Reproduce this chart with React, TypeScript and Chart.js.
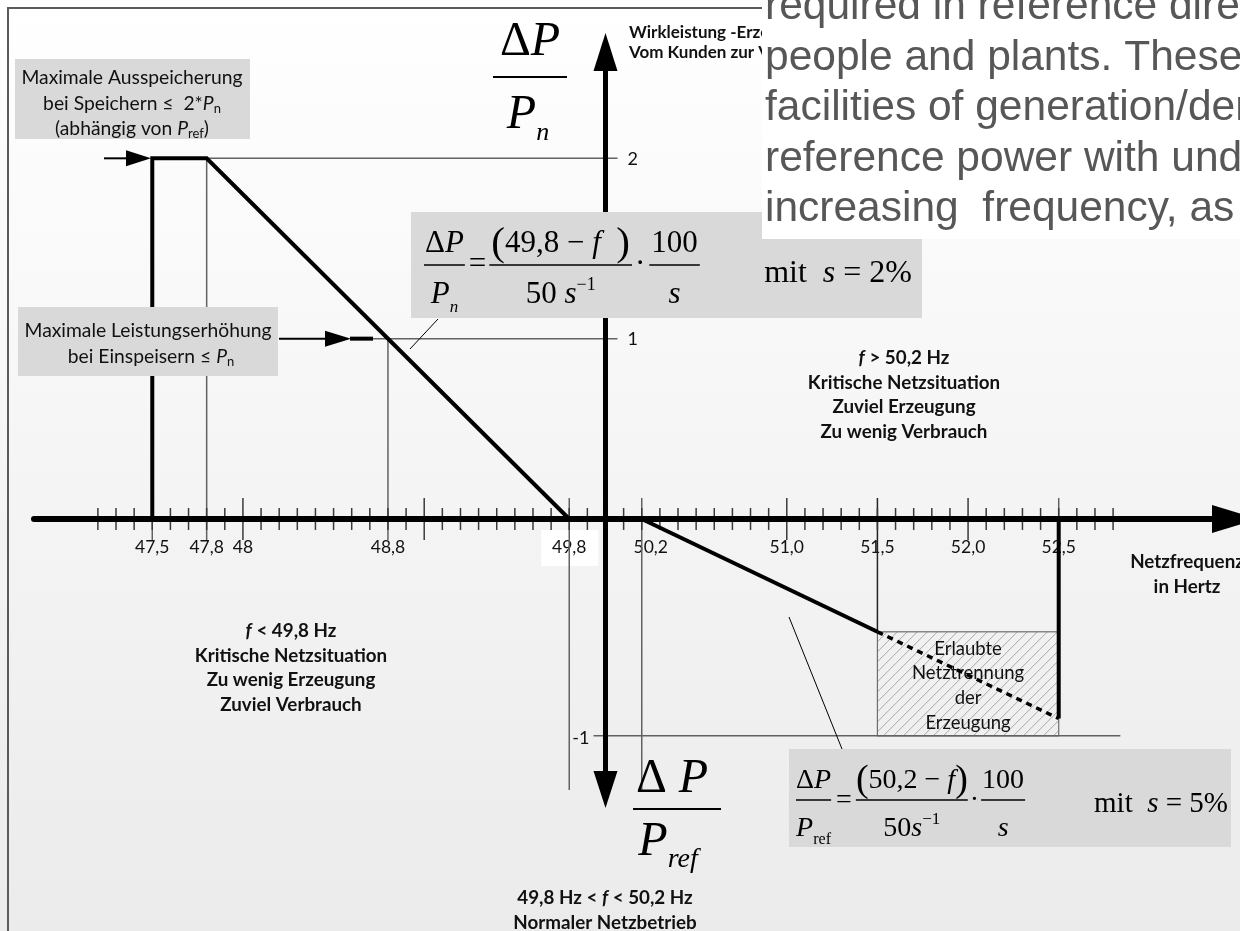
import React, { useEffect, useRef } from "react";
import { Chart, registerables } from "chart.js";

Chart.register(...registerables);

const WIDTH = 1240;
const HEIGHT = 931;

// Under-frequency characteristic, ΔP/Pn over f
const UNDER_FREQ = [47.5, 47.5, 47.8, 49.8];
const UNDER_DP = [0, 2, 2, 0];
// Over-frequency reduction, ΔP/Pref over f (solid part)
const OVER_FREQ = [50.2, 51.5];
const OVER_DP = [0, -0.52];
// continued reduction inside the disconnection band (dashed)
const TRIP_FREQ = [51.5, 52.5];
const TRIP_DP = [-0.52, -0.92];
// disconnection at 52,5 Hz
const CUT_FREQ = [52.5, 52.5];
const CUT_DP = [0, -0.92];
// band of permitted disconnection
const BAND_FREQ = [51.5, 52.5];
const BAND_DP = [-0.52, -1];

const TICK_VALUES = [47.5, 47.8, 48, 48.8, 49.8, 50.2, 51.0, 51.5, 52.0, 52.5];
const TICK_LABELS = ["47,5", "47,8", "48", "48,8", "49,8", "50,2", "51,0", "51,5", "52,0", "52,5"];
const PN_TICKS = [2, 1];
const PN_TICK_LABELS = ["2", "1"];
const REF_TICKS = [-1];
const REF_TICK_LABELS = ["-1"];

// scale ranges: frequency, ΔP/Pn (upper half), ΔP/Pref (lower half)
const F_RANGE = [46.66, 53.5];
const PN_RANGE = [-2.285, 2.878];
const REF_RANGE = [-1.9, 2.394];

type Run = { t: string; f: string; dy?: number };

const SANS = '"Lato", "Open Sans", sans-serif';
const sans = (size: number, weight = "normal", style = "normal") =>
  `${style} ${weight} ${size}px ${SANS}`;
const serif = (size: number, italic = false) =>
  `${italic ? "italic " : ""}${size}px "Liberation Serif", "DejaVu Serif", serif`;

function runsWidth(ctx: CanvasRenderingContext2D, runs: Run[]) {
  let w = 0;
  for (const r of runs) {
    ctx.font = r.f;
    w += ctx.measureText(r.t).width;
  }
  return w;
}

function drawRuns(
  ctx: CanvasRenderingContext2D,
  runs: Run[],
  x: number,
  y: number,
  align: "left" | "center" | "right" = "left"
) {
  const w = runsWidth(ctx, runs);
  let cx = align === "center" ? x - w / 2 : align === "right" ? x - w : x;
  ctx.textAlign = "left";
  ctx.textBaseline = "alphabetic";
  for (const r of runs) {
    ctx.font = r.f;
    ctx.fillText(r.t, cx, y + (r.dy || 0));
    cx += ctx.measureText(r.t).width;
  }
  return cx;
}

function drawFrac(
  ctx: CanvasRenderingContext2D,
  num: Run[],
  den: Run[],
  x: number,
  barY: number,
  up: number,
  down: number,
  pad: number,
  lw = 1.5
) {
  const w = Math.max(runsWidth(ctx, num), runsWidth(ctx, den)) + 2 * pad;
  drawRuns(ctx, num, x + w / 2, barY - up, "center");
  drawRuns(ctx, den, x + w / 2, barY + down, "center");
  ctx.lineWidth = lw;
  ctx.beginPath();
  ctx.moveTo(x, barY);
  ctx.lineTo(x + w, barY);
  ctx.stroke();
  return x + w;
}

function line(ctx: CanvasRenderingContext2D, x0: number, y0: number, x1: number, y1: number) {
  ctx.beginPath();
  ctx.moveTo(x0, y0);
  ctx.lineTo(x1, y1);
  ctx.stroke();
}

function tri(ctx: CanvasRenderingContext2D, pts: number[][]) {
  ctx.beginPath();
  ctx.moveTo(pts[0][0], pts[0][1]);
  for (let i = 1; i < pts.length; i++) ctx.lineTo(pts[i][0], pts[i][1]);
  ctx.closePath();
  ctx.fill();
}

const diagramPlugin = {
  id: "diagram",
  beforeDraw(chart: any) {
    const { ctx } = chart;
    ctx.save();
    const g = ctx.createLinearGradient(0, 0, 0, HEIGHT);
    g.addColorStop(0, "#ffffff");
    g.addColorStop(1, "#ebebeb");
    ctx.fillStyle = g;
    ctx.fillRect(0, 0, WIDTH, HEIGHT);
    ctx.strokeStyle = "#5a5a5a";
    ctx.lineWidth = 2;
    ctx.beginPath();
    ctx.moveTo(8, HEIGHT);
    ctx.lineTo(8, 8);
    ctx.lineTo(770, 8);
    ctx.stroke();
    ctx.restore();
  },
  beforeDatasetsDraw(chart: any) {
    const { ctx, scales } = chart;
    const fx = (v: number) => scales.x.getPixelForValue(v);
    const fy = (v: number) => scales.y.getPixelForValue(v);
    const fr = (v: number) => scales.yRef.getPixelForValue(v);
    const axisY = fy(0);
    const axisX = fx(50);
    ctx.save();

    // hatched band of permitted disconnection
    const bx0 = fx(BAND_FREQ[0]);
    const bx1 = fx(BAND_FREQ[1]);
    const by0 = fr(BAND_DP[0]);
    const by1 = fr(BAND_DP[1]);
    ctx.save();
    ctx.beginPath();
    ctx.rect(bx0, by0, bx1 - bx0, by1 - by0);
    ctx.clip();
    ctx.strokeStyle = "#a8a8a8";
    ctx.lineWidth = 1;
    const h = by1 - by0;
    for (let s = bx0 - h; s < bx1 + 12; s += 10) line(ctx, s, by1, s + h, by0);
    ctx.restore();
    ctx.strokeStyle = "#6e6e6e";
    ctx.lineWidth = 1.2;
    ctx.strokeRect(bx0, by0, bx1 - bx0, by1 - by0);
    ctx.fillStyle = "#111";
    ctx.font = sans(18.5);
    ctx.textAlign = "center";
    ctx.textBaseline = "middle";
    ["Erlaubte", "Netztrennung", "der", "Erzeugung"].forEach((t, i) =>
      ctx.fillText(t, (bx0 + bx1) / 2, by0 + 17 + i * 24.6)
    );

    // frequency tick labels
    ctx.font = sans(17.5);
    TICK_VALUES.forEach((v, i) => {
      const x = fx(v);
      if (v === 49.8) {
        ctx.fillStyle = "#ffffff";
        ctx.fillRect(x - 28, axisY + 11, 57, 36);
      }
      ctx.fillStyle = "#111";
      ctx.fillText(TICK_LABELS[i], x + (v === 50.2 ? 9 : 0), axisY + 28);
    });

    // thin guide lines
    ctx.strokeStyle = "#626262";
    ctx.lineWidth = 1.5;
    line(ctx, fx(47.8), fy(2), axisX + 12, fy(2));
    line(ctx, 372, fy(1), axisX + 12, fy(1));
    line(ctx, axisX - 12, fr(-1), fx(52.84), fr(-1));
    line(ctx, fx(47.8), fy(2), fx(47.8), axisY + 21);
    line(ctx, fx(48.8), fy(1), fx(48.8), axisY + 21);
    line(ctx, fx(47.5), axisY, fx(47.5), axisY + 21);
    line(ctx, fx(49.8), axisY - 21, fx(49.8), 790);
    line(ctx, fx(50.2), axisY - 21, fx(50.2), 791);
    line(ctx, fx(52.5), axisY - 21, fx(52.5), axisY);
    ctx.strokeStyle = "#222";
    line(ctx, fx(51.5), axisY - 21, fx(51.5), fr(-0.52));

    // frequency axis with minor ticks
    ctx.strokeStyle = "#3a3a3a";
    ctx.lineWidth = 1.5;
    for (let k = 472; k <= 528; k++) {
      if (k === 500) continue;
      const len = k % 10 === 0 ? 21 : 11;
      const x = fx(k / 10);
      line(ctx, x, axisY - len, x, axisY + len);
    }
    ctx.strokeStyle = "#000";
    ctx.fillStyle = "#000";
    ctx.lineWidth = 6;
    ctx.lineCap = "round";
    line(ctx, 34, axisY, 1215, axisY);
    ctx.lineCap = "butt";
    tri(ctx, [[1212, axisY - 14], [1258, axisY], [1212, axisY + 14]]);

    // power axis (both directions)
    ctx.lineWidth = 5;
    line(ctx, axisX, 68, axisX, 775);
    tri(ctx, [[axisX, 33], [axisX - 12, 71], [axisX + 12, 71]]);
    tri(ctx, [[axisX, 808], [axisX - 12, 771], [axisX + 12, 771]]);

    // pointer arrows from the note boxes
    ctx.lineWidth = 2;
    line(ctx, 104, fy(2), 128, fy(2));
    tri(ctx, [[126, fy(2) - 8], [151, fy(2)], [126, fy(2) + 8]]);
    line(ctx, 279, fy(1), 328, fy(1));
    tri(ctx, [[325, fy(1) - 8], [351, fy(1)], [325, fy(1) + 8]]);
    ctx.lineWidth = 4;
    line(ctx, 350, fy(1), 373, fy(1));
    ctx.restore();
  },
  afterDatasetsDraw(chart: any) {
    const { ctx, scales } = chart;
    const fx = (v: number) => scales.x.getPixelForValue(v);
    const fy = (v: number) => scales.y.getPixelForValue(v);
    const fr = (v: number) => scales.yRef.getPixelForValue(v);
    const axisX = fx(50);
    ctx.save();

    // note boxes
    ctx.fillStyle = "#d9d9d9";
    ctx.fillRect(15, 59, 235, 80);
    ctx.fillRect(18, 307, 260, 69);
    ctx.fillStyle = "#111";
    const N = 19.3;
    drawRuns(ctx, [{ t: "Maximale Ausspeicherung", f: sans(N) }], 132, 84, "center");
    drawRuns(
      ctx,
      [
        { t: "bei Speichern ≤  2*", f: sans(N) },
        { t: "P", f: sans(N, "normal", "italic") },
        { t: "n", f: sans(13), dy: 3 },
      ],
      132,
      110,
      "center"
    );
    drawRuns(
      ctx,
      [
        { t: "(abhängig von ", f: sans(N) },
        { t: "P", f: sans(N, "normal", "italic") },
        { t: "ref", f: sans(13), dy: 3 },
        { t: ")", f: sans(N) },
      ],
      132,
      135,
      "center"
    );
    drawRuns(ctx, [{ t: "Maximale Leistungserhöhung", f: sans(N) }], 148, 337, "center");
    drawRuns(
      ctx,
      [
        { t: "bei Einspeisern ≤ ", f: sans(N) },
        { t: "P", f: sans(N, "normal", "italic") },
        { t: "n", f: sans(13), dy: 3 },
      ],
      151,
      363,
      "center"
    );

    // ordinate tick labels
    ctx.font = sans(18);
    ctx.textBaseline = "middle";
    ctx.textAlign = "left";
    PN_TICKS.forEach((v, i) => ctx.fillText(PN_TICK_LABELS[i], axisX + 22, fy(v) + 1));
    ctx.textAlign = "right";
    REF_TICKS.forEach((v, i) => ctx.fillText(REF_TICK_LABELS[i], axisX - 16, fr(v) + 2));

    // axis titles
    ctx.fillStyle = "#000";
    ctx.strokeStyle = "#000";
    drawRuns(ctx, [{ t: "Δ", f: serif(48) }, { t: "P", f: serif(48, true) }], 530, 55, "center");
    ctx.lineWidth = 2;
    line(ctx, 493, 77, 567, 77);
    drawRuns(ctx, [{ t: "P", f: serif(48, true) }, { t: "n", f: serif(26, true), dy: 12 }], 528, 128, "center");

    drawRuns(ctx, [{ t: "Δ ", f: serif(48) }, { t: "P", f: serif(48, true) }], 672, 792, "center");
    line(ctx, 633, 809, 721, 809);
    drawRuns(ctx, [{ t: "P", f: serif(48, true) }, { t: "ref", f: serif(28, true), dy: 12 }], 668, 855, "center");

    ctx.fillStyle = "#111";
    ctx.font = sans(17, "bold");
    ctx.textAlign = "left";
    ctx.textBaseline = "alphabetic";
    ctx.fillText("Wirkleistung -Erzeugung", 629, 38);
    ctx.fillText("Vom Kunden zur Verfügung", 629, 58);

    // operating regions
    const R = 18.8;
    const B = (s: number) => sans(s, "bold");
    const BI = (s: number) => sans(s, "bold", "italic");
    const block = (cx: number, y0: number, lines: Run[][]) =>
      lines.forEach((r, i) => drawRuns(ctx, r, cx, y0 + i * 24.5, "center"));
    block(291, 637, [
      [{ t: "f", f: BI(R) }, { t: " < 49,8 Hz", f: B(R) }],
      [{ t: "Kritische Netzsituation", f: B(R) }],
      [{ t: "Zu wenig Erzeugung", f: B(R) }],
      [{ t: "Zuviel Verbrauch", f: B(R) }],
    ]);
    block(904, 364, [
      [{ t: "f", f: BI(R) }, { t: " > 50,2 Hz", f: B(R) }],
      [{ t: "Kritische Netzsituation", f: B(R) }],
      [{ t: "Zuviel Erzeugung", f: B(R) }],
      [{ t: "Zu wenig Verbrauch", f: B(R) }],
    ]);
    block(605, 904, [
      [{ t: "49,8 Hz < ", f: B(R) }, { t: "f", f: BI(R) }, { t: " < 50,2 Hz", f: B(R) }],
      [{ t: "Normaler Netzbetrieb", f: B(R) }],
    ]);
    block(1187, 568, [
      [{ t: "Netzfrequenz", f: B(R) }],
      [{ t: "in Hertz", f: B(R) }],
    ]);

    // droop formula for under-frequency
    ctx.fillStyle = "#d9d9d9";
    ctx.fillRect(411, 212, 511, 106);
    ctx.fillStyle = "#000";
    ctx.strokeStyle = "#000";
    ctx.lineWidth = 1;
    line(ctx, 438, 319, 410, 349);
    {
      const S = 31;
      const barY = 265;
      let x = 424;
      x = drawFrac(
        ctx,
        [{ t: "Δ", f: serif(S) }, { t: "P", f: serif(S, true) }],
        [{ t: "P", f: serif(S, true) }, { t: "n", f: serif(17, true), dy: 9 }],
        x, barY, 13, 38, 1
      );
      x += 4;
      x = drawRuns(ctx, [{ t: "=", f: serif(S) }], x, barY + 8);
      x += 3;
      x = drawFrac(
        ctx,
        [
          { t: "(", f: serif(41), dy: 3 },
          { t: "49,8 − ", f: serif(S) },
          { t: "f", f: serif(S, true) },
          { t: "  ", f: serif(S) },
          { t: ")", f: serif(41), dy: 3 },
        ],
        [{ t: "50 ", f: serif(S) }, { t: "s", f: serif(S, true) }, { t: "−1", f: serif(18), dy: -13 }],
        x, barY, 13, 38, 2
      );
      x += 3;
      x = drawRuns(ctx, [{ t: "·", f: serif(S) }], x, barY + 8);
      x += 4;
      drawFrac(ctx, [{ t: "100", f: serif(S) }], [{ t: "s", f: serif(S, true) }], x, barY, 13, 38, 2);
      drawRuns(
        ctx,
        [{ t: "mit  ", f: serif(32) }, { t: "s", f: serif(32, true) }, { t: " = 2%", f: serif(32) }],
        912,
        282,
        "right"
      );
    }

    // droop formula for over-frequency
    ctx.fillStyle = "#d9d9d9";
    ctx.fillRect(789, 749, 442, 98);
    ctx.fillStyle = "#000";
    ctx.lineWidth = 1;
    line(ctx, 789, 617, 842, 749);
    {
      const S = 28;
      const barY = 800;
      let x = 796;
      x = drawFrac(
        ctx,
        [{ t: "Δ", f: serif(S) }, { t: "P", f: serif(S, true) }],
        [{ t: "P", f: serif(S, true) }, { t: "ref", f: serif(16), dy: 8 }],
        x, barY, 12, 36, 0
      );
      x += 5;
      x = drawRuns(ctx, [{ t: "=", f: serif(S) }], x, barY + 8);
      x += 4;
      x = drawFrac(
        ctx,
        [
          { t: "(", f: serif(38), dy: 3 },
          { t: "50,2 − ", f: serif(S) },
          { t: "f", f: serif(S, true) },
          { t: ")", f: serif(38), dy: 3 },
        ],
        [{ t: "50", f: serif(S) }, { t: "s", f: serif(S, true) }, { t: "−1", f: serif(17), dy: -12 }],
        x, barY, 12, 36, 0
      );
      x += 2;
      x = drawRuns(ctx, [{ t: "·", f: serif(S) }], x, barY + 8);
      x += 2;
      drawFrac(ctx, [{ t: "100", f: serif(S) }], [{ t: "s", f: serif(S, true) }], x, barY, 12, 36, 1);
      drawRuns(
        ctx,
        [{ t: "mit  ", f: serif(29) }, { t: "s", f: serif(29, true) }, { t: " = 5%", f: serif(29) }],
        1228,
        812,
        "right"
      );
    }

    // overlapping page text in the upper right
    ctx.fillStyle = "#ffffff";
    ctx.fillRect(762, 0, WIDTH - 762, 239);
    ctx.fillStyle = "#575757";
    ctx.font = '42.5px "Liberation Sans", Arial, sans-serif';
    ctx.textAlign = "left";
    ctx.textBaseline = "alphabetic";
    [
      "required in reference direction",
      "people and plants. These",
      "facilities of generation/demand",
      "reference power with under",
      "increasing  frequency, as",
    ].forEach((t, i) => ctx.fillText(t, 765, 19 + i * 50.5));
    ctx.restore();
  },
};

const pts = (xs: number[], ys: number[]) => xs.map((x, i) => ({ x, y: ys[i] }));

export default function App() {
  const ref = useRef<HTMLCanvasElement>(null);
  useEffect(() => {
    const canvas = ref.current;
    if (!canvas) return;
    const base = {
      borderColor: "#000",
      borderWidth: 4,
      pointRadius: 0,
      fill: false,
      tension: 0,
      borderJoinStyle: "miter" as const,
      borderCapStyle: "butt" as const,
      xAxisID: "x",
    };
    const chart = new Chart(canvas, {
      type: "line",
      data: {
        datasets: [
          { ...base, label: "ΔP/Pn", data: pts(UNDER_FREQ, UNDER_DP), yAxisID: "y" },
          { ...base, label: "ΔP/Pref", data: pts(OVER_FREQ, OVER_DP), yAxisID: "yRef" },
          {
            ...base,
            label: "ΔP/Pref (Trennband)",
            data: pts(TRIP_FREQ, TRIP_DP),
            yAxisID: "yRef",
            borderWidth: 3.5,
            borderDash: [6, 5],
          },
          { ...base, label: "Abschaltung", data: pts(CUT_FREQ, CUT_DP), yAxisID: "yRef" },
        ],
      },
      options: {
        responsive: false,
        animation: false,
        devicePixelRatio: 1,
        layout: { padding: 0 },
        events: [],
        plugins: { legend: { display: false }, tooltip: { enabled: false } },
        scales: {
          x: { type: "linear", min: F_RANGE[0], max: F_RANGE[1], display: false },
          y: { type: "linear", min: PN_RANGE[0], max: PN_RANGE[1], display: false },
          yRef: { type: "linear", min: REF_RANGE[0], max: REF_RANGE[1], display: false },
        },
      },
      plugins: [diagramPlugin],
    });
    return () => chart.destroy();
  }, []);
  return (
    <div style={{ position: "absolute", left: 0, top: 0, width: WIDTH, height: HEIGHT }}>
      <canvas ref={ref} width={WIDTH} height={HEIGHT} style={{ display: "block", width: WIDTH, height: HEIGHT }} />
    </div>
  );
}
